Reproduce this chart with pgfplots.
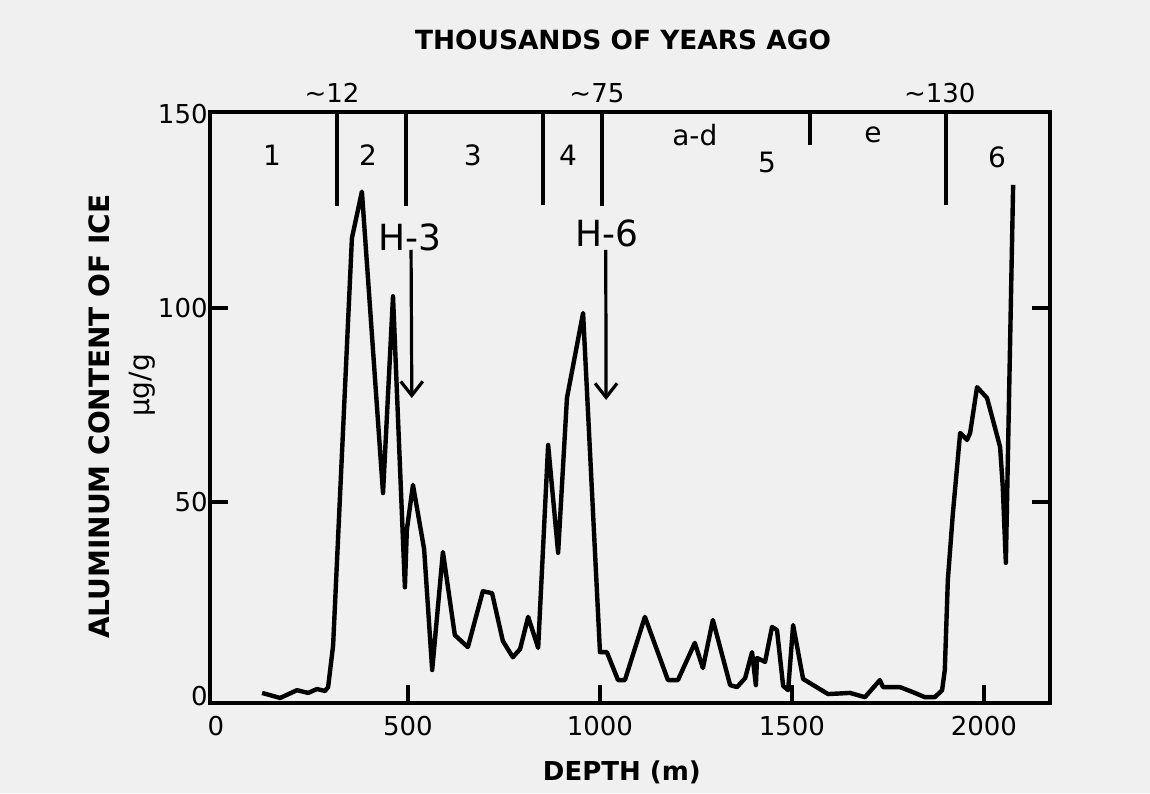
\documentclass[border=0pt]{standalone}
\usepackage{fontspec}
\setmainfont{DejaVu Sans}
\usepackage{pgfplots}
\pgfplotsset{compat=1.18}
\usetikzlibrary{arrows.meta}
\definecolor{bg}{gray}{0.94}
\begin{document}
\begin{tikzpicture}
\path[use as bounding box, fill=bg] (-105pt,-45pt) rectangle (470pt,351.5pt);
\begin{axis}[
  at={(0,0)}, anchor=south west,
  width=420pt, height=295.5pt, scale only axis,
  xmin=-15.6, xmax=2172, ymin=-1.8, ymax=150.5,
  clip=false,
  axis line style={line width=2pt},
  xtick={500,1000,1500,2000},
  ytick={50,100},
  extra x ticks={0},
  extra y ticks={0,150},
  extra x tick style={major tick length=0pt},
  extra y tick style={major tick length=0pt},
  xtick pos=bottom, ytick pos=both,
  tick align=inside,
  major tick length=9pt,
  tick style={line width=2pt, black},
  ticklabel style={font=\fontsize{13}{13}\selectfont},
  yticklabel style={inner xsep=1pt},
  xticklabel style={yshift=-3pt},
  /pgf/number format/assume math mode=true,
  /pgf/number format/1000 sep={},
]
\addplot[line width=2.2pt, line join=round, mark=none] coordinates {
(120,0.8) (167,-0.5) (211,1.5) (240,0.8) (263,1.8) (284,1.3) (292,2.3) (305,13)
(354,118) (380,130) (435,52.3) (461,103) (492,28) (497,42.8) (513,54.4) (542,37.9)
(563,6.7) (591,37.1) (622,15.7) (656,12.6) (695,27) (719,26.5) (747,14.2) (773,10)
(792,12.1) (813,20.4) (839,12.4) (865,64.7) (891,36.9) (914,76.8) (956,98.7)
(1000,11.3) (1018,11.3) (1047,4.1) (1065,4.1) (1117,20.4) (1177,4.1) (1203,4.1)
(1247,13.7) (1268,7.2) (1294,19.6) (1339,2.8) (1357,2.3) (1378,4.6) (1396,11.3)
(1406,2.8) (1409,9.8) (1430,8.8) (1448,17.8) (1461,17) (1477,2.6) (1490,1.5)
(1503,18.3) (1529,4.4) (1594,0.5) (1651,0.8) (1690,-0.3) (1729,4.1) (1737,2.3)
(1781,2.3) (1815,1) (1846,-0.3) (1872,-0.3) (1891,1.5) (1898,6.7) (1906,30)
(1919,47) (1938,67.8) (1956,66) (1964,67.8) (1982,79.6) (2008,76.8) (2042,64.2)
(2049,53.9) (2057,34.3) (2076,131.7)
};
% zone dividers
\draw[line width=2pt] (axis cs:315,150.5) -- (axis cs:315,126.3);
\draw[line width=2pt] (axis cs:495,150.5) -- (axis cs:495,126.3);
\draw[line width=2pt] (axis cs:852,150.5) -- (axis cs:852,126.5);
\draw[line width=2pt] (axis cs:1005,150.5) -- (axis cs:1005,126.3);
\draw[line width=2pt] (axis cs:1547,150.5) -- (axis cs:1547,142);
\draw[line width=2pt] (axis cs:1901,150.5) -- (axis cs:1901,126.5);
% arrows
\draw[line width=1.6pt, -{Straight Barb[length=7pt,width=11pt,line width=1.6pt]}] (axis cs:508,115) -- (axis cs:510,76.8);
\draw[line width=1.6pt, -{Straight Barb[length=7pt,width=11pt,line width=1.6pt]}] (axis cs:1015,115) -- (axis cs:1016,76.3);
\node[font=\fontsize{18}{18}\selectfont] at (axis cs:505,118.3) {H-3};
\node[font=\fontsize{18}{18}\selectfont] at (axis cs:1018,119.3) {H-6};
% zone labels
\node[font=\fontsize{14}{14}\selectfont] at (axis cs:146,139.4) {1};
\node[font=\fontsize{14}{14}\selectfont] at (axis cs:396,139.4) {2};
\node[font=\fontsize{14}{14}\selectfont] at (axis cs:669,139.4) {3};
\node[font=\fontsize{14}{14}\selectfont] at (axis cs:917,139.4) {4};
\node[font=\fontsize{14}{14}\selectfont] at (axis cs:1247,144.6) {a-d};
\node[font=\fontsize{14}{14}\selectfont] at (axis cs:1435,137.6) {5};
\node[font=\fontsize{14}{14}\selectfont] at (axis cs:1711,144.6) {e};
\node[font=\fontsize{14}{14}\selectfont] at (axis cs:2034,138.9) {6};
% ages
\node[font=\fontsize{13}{13}\selectfont] at (axis cs:302,155.4) {\char"223C 12};
\node[font=\fontsize{13}{13}\selectfont] at (axis cs:992,155.4) {\char"223C 75};
\node[font=\fontsize{13}{13}\selectfont] at (axis cs:1885,155.4) {\char"223C 130};
\node[font=\bfseries\fontsize{13.2}{13.2}\selectfont] at (axis cs:1060,169) {THOUSANDS OF YEARS AGO};
% axis titles
\node[font=\bfseries\fontsize{13}{13}\selectfont] at (axis cs:1057,-19.6) {DEPTH (m)};
\node[font=\bfseries\fontsize{14}{14}\selectfont, rotate=90] at (axis cs:-305,72) {ALUMINUM CONTENT OF ICE};
\node[font=\fontsize{14}{14}\selectfont, rotate=90] at (axis cs:-193,80) {μg/g};
\end{axis}
\end{tikzpicture}
\end{document}
